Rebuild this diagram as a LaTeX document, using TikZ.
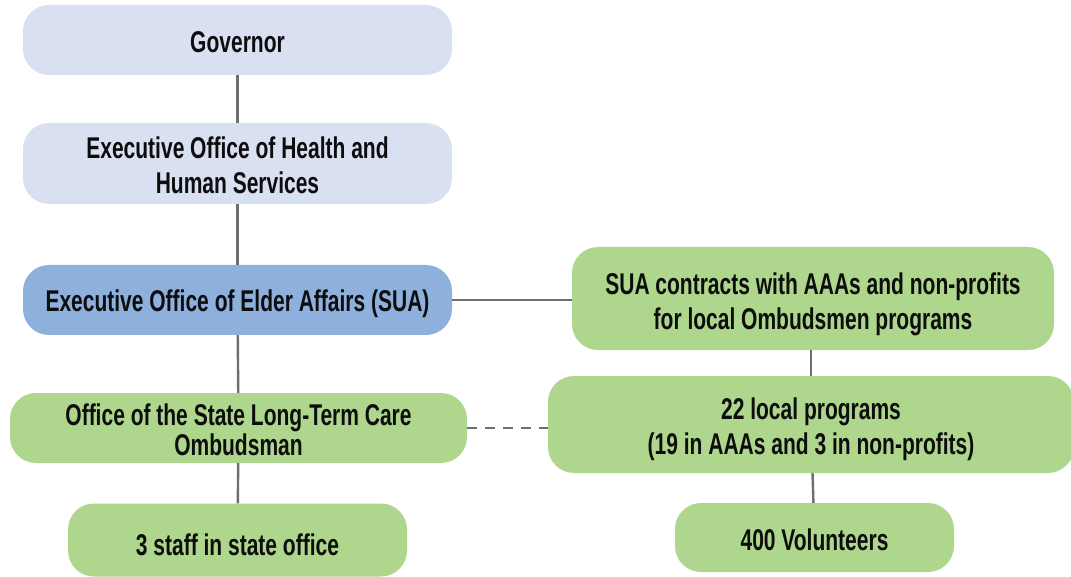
\documentclass[tikz,border=0pt]{standalone}
\usepackage{fontspec}
\setmainfont[FakeStretch=0.7]{Liberation Sans}
\definecolor{lblue}{HTML}{D8E0F2}
\definecolor{mblue}{HTML}{8EB0DC}
\definecolor{lgreen}{HTML}{AED68C}
\definecolor{lgray}{HTML}{6E6E6E}
\begin{document}
\begin{tikzpicture}[x=1pt,y=-1pt,
  box/.style={rounded corners=26pt, inner sep=0pt},
  lbl/.style={align=center, inner sep=0pt,
    font=\fontsize{30}{35}\selectfont\bfseries, text=black!95},
  conn/.style={draw=lgray, line width=2.4pt}]
\useasboundingbox (0,0) rectangle (1071,577);
\node[box, fill=lblue, minimum width=429pt, minimum height=70pt,
  label={[lbl, yshift=-2pt]center:Governor}] (gov) at (237.5,40) {};
\node[box, fill=lblue, minimum width=429pt, minimum height=81pt,
  label={[lbl, yshift=-2pt]center:{Executive Office of Health and\\Human Services}}] (eohhs) at (237.5,163.5) {};
\node[box, fill=mblue, minimum width=429pt, minimum height=70pt,
  label={[lbl, yshift=-4pt]center:{Executive Office of Elder Affairs (SUA)}}] (sua) at (237.5,300) {};
\node[box, fill=lgreen, minimum width=457pt, minimum height=70pt,
  label={[lbl, font=\fontsize{30}{30}\selectfont\bfseries, yshift=-2pt]center:{Office of the State Long-Term Care\\Ombudsman}}] (olt) at (238.5,428) {};
\node[box, fill=lgreen, minimum width=339pt, minimum height=73pt,
  label={[lbl, yshift=-5pt]center:{3 staff in state office}}] (staff) at (237.5,540) {};
\node[box, fill=lgreen, minimum width=482pt, minimum height=103pt,
  label={[lbl, yshift=-6pt]center:{SUA contracts with AAAs and non-profits\\for local Ombudsmen programs}}] (contr) at (813,298.5) {};
\node[box, fill=lgreen, minimum width=526pt, minimum height=97pt,
  label={[lbl, yshift=-5pt]center:{22 local programs\\(19 in AAAs and 3 in non-profits)}}] (local) at (811,424.5) {};
\node[box, fill=lgreen, minimum width=279pt, minimum height=69pt,
  label={[lbl, yshift=-2pt]center:{400 Volunteers}}] (vol) at (814.5,537.5) {};
\draw[conn] (gov) -- (eohhs);
\draw[conn] (eohhs) -- (sua);
\draw[conn] (sua) -- (olt);
\draw[conn] (olt) -- (staff);
\draw[conn] (sua.east) -- (sua.east -| contr.west);
\draw[conn] (contr.south -| local.north) -- (local.north);
\draw[conn] (local) -- (vol);
\draw[conn, dash pattern=on 10pt off 8pt] (olt.east) -- (olt.east -| local.west);
\end{tikzpicture}
\end{document}
